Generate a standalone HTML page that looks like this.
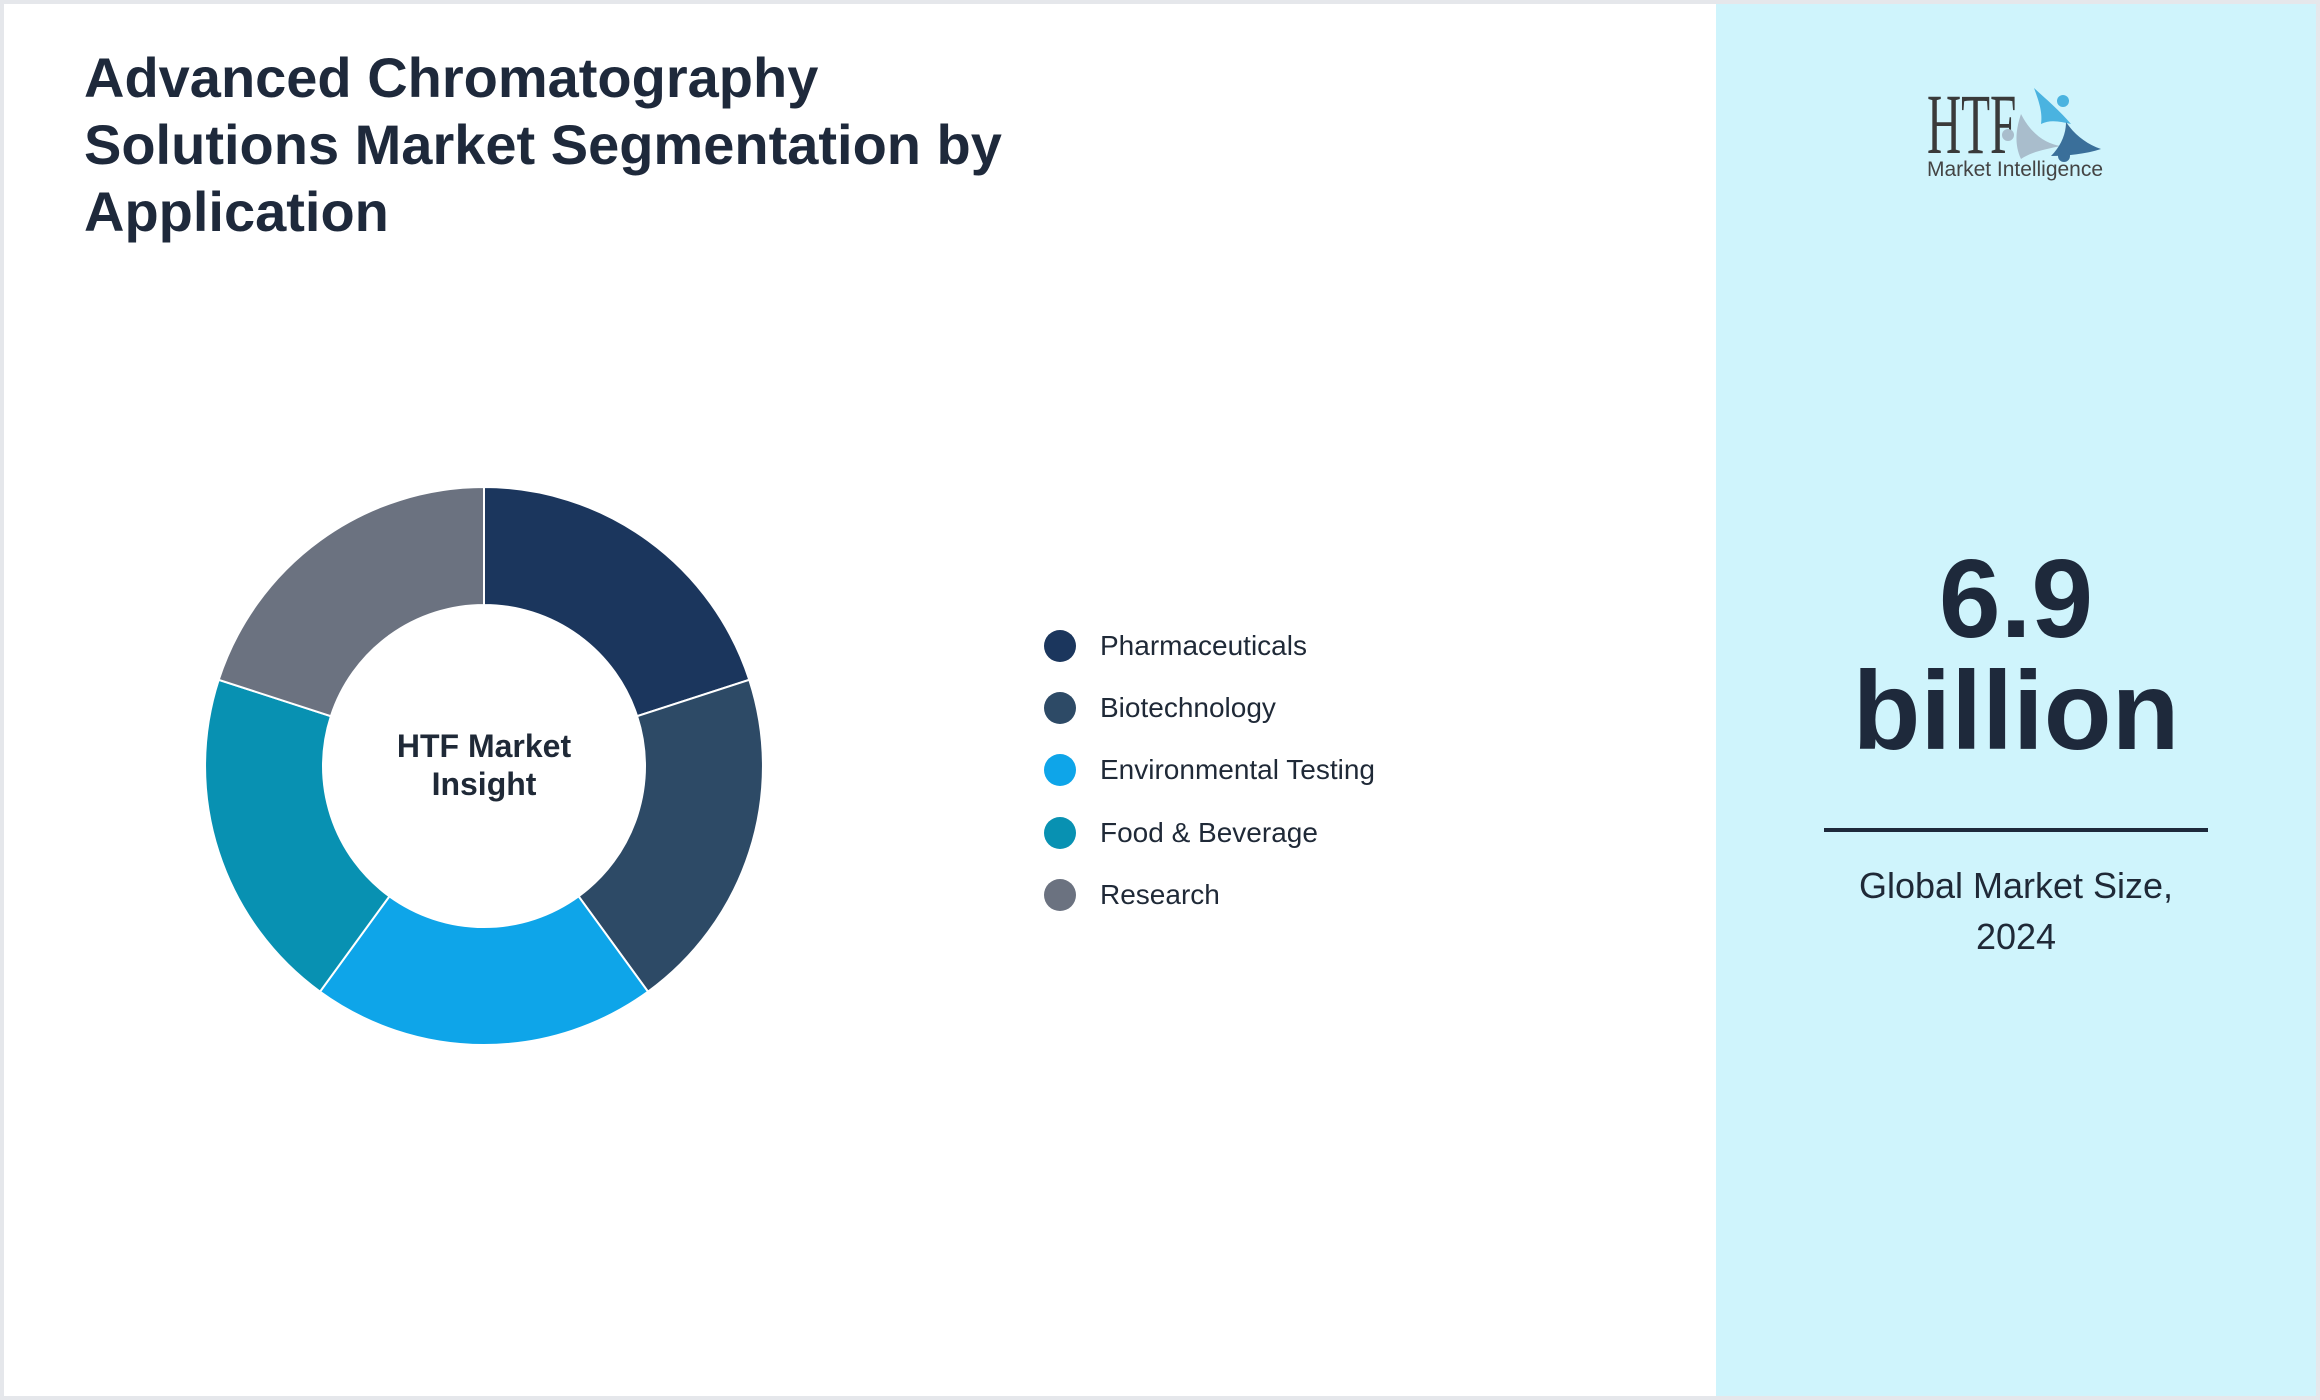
<!DOCTYPE html>
<html><head><meta charset="utf-8"><style>
html,body{margin:0;padding:0}
body{width:2320px;height:1400px;position:relative;background:#e5e7eb;font-family:"Liberation Sans",sans-serif;color:#1f2937;overflow:hidden}
#main{position:absolute;left:4px;top:4px;width:1712px;height:1392px;background:#fff}
#side{position:absolute;left:1716px;top:4px;width:600px;height:1392px;background:#cff4fc}
h1{position:absolute;left:80px;top:40px;margin:0;font-size:56px;line-height:67px;font-weight:bold;color:#1e293b;width:1000px}
.lg{position:absolute;left:1040px;font-size:28px;color:#1f2937;line-height:32px}
.lg i{position:absolute;left:0;top:0;width:32px;height:32px;border-radius:50%}
.lg span{position:absolute;left:56px;top:0;white-space:nowrap}
</style></head><body>
<div id="main">
<h1>Advanced Chromatography<br>Solutions Market Segmentation by<br>Application</h1>
<svg style="position:absolute;left:0;top:0" width="1712" height="1392">
<g transform="translate(480,762)" stroke="#fff" stroke-width="2">
<path d="M0,-279 A279,279 0 0 1 265.3,-86.2 L153.1,-49.8 A161,161 0 0 0 0,-161 Z" fill="#1b365d"/>
<path d="M265.3,-86.2 A279,279 0 0 1 164.0,225.7 L94.6,130.3 A161,161 0 0 0 153.1,-49.8 Z" fill="#2d4a66"/>
<path d="M164.0,225.7 A279,279 0 0 1 -164.0,225.7 L-94.6,130.3 A161,161 0 0 0 94.6,130.3 Z" fill="#0ea5e9"/>
<path d="M-164.0,225.7 A279,279 0 0 1 -265.3,-86.2 L-153.1,-49.8 A161,161 0 0 0 -94.6,130.3 Z" fill="#0891b2"/>
<path d="M-265.3,-86.2 A279,279 0 0 1 0,-279 L0,-161 A161,161 0 0 0 -153.1,-49.8 Z" fill="#6b7280"/>
</g>
<text x="480" y="753" text-anchor="middle" font-family="Liberation Sans, sans-serif" font-weight="bold" font-size="32" fill="#1f2937">HTF Market</text>
<text x="480" y="791" text-anchor="middle" font-family="Liberation Sans, sans-serif" font-weight="bold" font-size="32" fill="#1f2937">Insight</text>
</svg>
<div class="lg" style="top:626px"><i style="background:#1b365d"></i><span>Pharmaceuticals</span></div>
<div class="lg" style="top:688px"><i style="background:#2d4a66"></i><span>Biotechnology</span></div>
<div class="lg" style="top:750px"><i style="background:#0ea5e9"></i><span>Environmental Testing</span></div>
<div class="lg" style="top:813px"><i style="background:#0891b2"></i><span>Food &amp; Beverage</span></div>
<div class="lg" style="top:875px"><i style="background:#6b7280"></i><span>Research</span></div>
</div>
<div id="side">
<svg style="position:absolute;left:0;top:0" width="600" height="260">
<text x="211" y="149" font-family="Liberation Serif, serif" font-size="86" fill="#3a3a3a" transform="translate(211,0) scale(0.55,1) translate(-211,0)">HTF</text>
<text x="211" y="172" font-family="Liberation Sans, sans-serif" font-size="21" fill="#444" textLength="176">Market Intelligence</text>
<path d="M318,84 C330,95 345,108 355,120 C345,118 335,115 325,120 C327,108 322,95 318,84Z" fill="#4ab3e0"/>
<circle cx="347" cy="97" r="6" fill="#4ab3e0"/>
<path d="M305,110 C300,125 298,140 305,155 C315,148 330,145 345,142 C330,140 315,130 305,110Z" fill="#a9bdcc"/>
<circle cx="292" cy="131" r="6" fill="#a9bdcc"/>
<path d="M350,118 C358,130 370,140 385,145 C370,150 350,152 335,152 C345,142 350,130 350,118Z" fill="#3a6f9a"/>
<circle cx="348" cy="152" r="6" fill="#3a6f9a"/>
</svg>
<div style="position:absolute;left:0;width:600px;top:539px;text-align:center;font-weight:bold;font-size:111px;line-height:112px;color:#1e293b">6.9<br>billion</div>
<div style="position:absolute;left:108px;top:824px;width:384px;height:4px;background:#1e293b"></div>
<div style="position:absolute;left:0;width:600px;top:856px;text-align:center;font-size:36px;line-height:51px;color:#1f2937">Global Market Size,<br>2024</div>
</div>
</body></html>
